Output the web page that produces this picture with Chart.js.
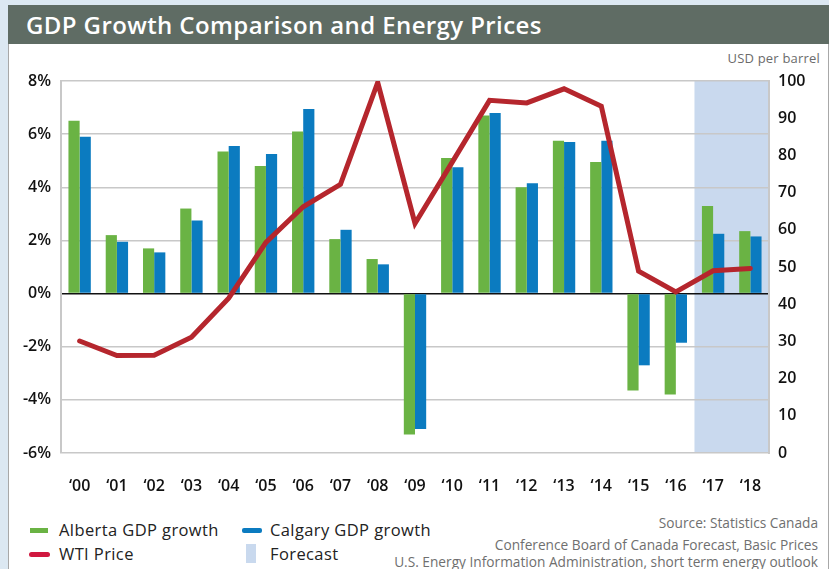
<!DOCTYPE html>
<html>
<head>
<meta charset="utf-8">
<script src="https://cdn.jsdelivr.net/npm/chart.js@4.4.1/dist/chart.umd.min.js"></script>
<style>
  html, body { margin: 0; padding: 0; }
  body { width: 829px; height: 569px; background: #dce8f2; position: relative; overflow: hidden; font-family: "Open Sans", sans-serif; }
  #card { position: absolute; left: 8px; top: 5px; width: 821px; height: 580px; background: #fff; border: 1px solid #a8a8a8; box-sizing: border-box; }
  #title { position: absolute; left: 8px; top: 5px; width: 821px; height: 39px; background: #5f6c64; color: #fff; font-size: 24px; font-weight: 600; letter-spacing: 0.4px; line-height: 39px; padding-left: 18px; box-sizing: border-box; }
  #unit { position: absolute; right: 9px; top: 49px; font-size: 13px; color: #6b6b6b; letter-spacing: 0.2px; }
  #chartBox { position: absolute; left: 0; top: 0; width: 829px; height: 500px; }
  .leg { position: absolute; font-size: 16.5px; color: #222; line-height: 20px; letter-spacing: 0.4px; }
  .sw { position: absolute; }
  .src { position: absolute; right: 11px; font-size: 13.7px; color: #6f6f6f; line-height: 16px; text-align: right; }
</style>
</head>
<body>
<div id="card"></div>
<div id="title">GDP Growth Comparison and Energy Prices</div>
<div id="unit">USD per barrel</div>
<div id="chartBox"><canvas id="chart" width="829" height="500"></canvas></div>

<div class="sw" style="left:30px;top:528px;width:18px;height:5px;background:#6ab344"></div>
<div class="leg" style="left:59px;top:520px">Alberta GDP growth</div>
<div class="sw" style="left:242px;top:528px;width:20px;height:5px;background:#0b7bc0;border-radius:2px"></div>
<div class="leg" style="left:270px;top:520px">Calgary GDP growth</div>
<div class="sw" style="left:29px;top:552px;width:21px;height:5px;background:#d0183f;border-radius:3px"></div>
<div class="leg" style="left:59px;top:544px">WTI Price</div>
<div class="sw" style="left:246px;top:544px;width:10px;height:19px;background:#c9d9ee"></div>
<div class="leg" style="left:270px;top:544px">Forecast</div>

<div class="src" style="top:515px">Source: Statistics Canada</div>
<div class="src" style="top:537px">Conference Board of Canada Forecast, Basic Prices</div>
<div class="src" style="top:554px">U.S. Energy Information Administration, short term energy outlook</div>

<script>
const years = ['\u201800', '\u201801', '\u201802', '\u201803', '\u201804', '\u201805', '\u201806', '\u201807', '\u201808', '\u201809',
  '\u201810', '\u201811', '\u201812', '\u201813', '\u201814', '\u201815', '\u201816', '\u201817', '\u201818'];
const albertaGdp = [6.5, 2.2, 1.7, 3.2, 5.35, 4.8, 6.1, 2.05, 1.3, -5.3, 5.1, 6.7, 4.0, 5.75, 4.95, -3.65, -3.8, 3.3, 2.35];
const calgaryGdp = [5.9, 1.95, 1.55, 2.75, 5.55, 5.25, 6.95, 2.4, 1.1, -5.1, 4.75, 6.8, 4.15, 5.7, 5.75, -2.7, -1.85, 2.25, 2.15];
const wtiPrice = [30.1, 26.2, 26.3, 31.1, 41.6, 56.6, 66.2, 72.2, 99.6, 61.7, 78.2, 94.8, 94.1, 97.9, 93.2, 48.9, 43.3, 49.0, 49.6];
const forecastYears = ['\u201817', '\u201818'];
const gdpTicks = [-6, -4, -2, 0, 2, 4, 6, 8];
const priceTicks = [0, 10, 20, 30, 40, 50, 60, 70, 80, 90, 100];

const tickFont = { family: 'Open Sans', size: 16, weight: '600' };

// light blue band behind the forecast years
const forecastShade = {
  id: 'forecastShade',
  beforeDraw(chart) {
    const x = chart.scales.x, area = chart.chartArea, ctx = chart.ctx;
    const i = years.indexOf(forecastYears[0]);
    const left = (x.getPixelForValue(i - 1) + x.getPixelForValue(i)) / 2;
    ctx.save();
    ctx.fillStyle = '#c9d9ee';
    ctx.fillRect(left, area.top, area.right - left, area.bottom - area.top);
    ctx.restore();
  }
};

new Chart(document.getElementById('chart'), {
  type: 'bar',
  data: {
    labels: years,
    datasets: [
      { type: 'line', label: 'WTI Price', data: wtiPrice, yAxisID: 'y1', order: 0,
        borderColor: '#b5262d', borderWidth: 5, pointRadius: 0, tension: 0, borderCapStyle: 'round', fill: false },
      { label: 'Alberta GDP growth', data: albertaGdp, yAxisID: 'y', order: 1,
        backgroundColor: '#6ab344', categoryPercentage: 0.6, barPercentage: 1 },
      { label: 'Calgary GDP growth', data: calgaryGdp, yAxisID: 'y', order: 1,
        backgroundColor: '#0b7bc0', categoryPercentage: 0.6, barPercentage: 1 }
    ]
  },
  options: {
    responsive: false,
    animation: false,
    layout: { padding: { top: 81, left: 0, right: 0, bottom: 0 } },
    plugins: { legend: { display: false }, tooltip: { enabled: false } },
    scales: {
      x: {
        grid: { display: false },
        border: { display: false },
        ticks: { color: '#111', font: tickFont, padding: 16, maxRotation: 0 },
        afterFit: s => { s.height = 47; }
      },
      y: {
        position: 'left',
        min: -6, max: 8,
        afterBuildTicks: s => { s.ticks = gdpTicks.map(v => ({ value: v })); },
        grid: {
          drawTicks: false,
          color: c => c.tick && c.tick.value === 0 ? '#111' : '#c8c8c8',
          lineWidth: 1.5
        },
        border: { display: true, color: '#c8c8c8', width: 2 },
        ticks: { color: '#111', font: tickFont, padding: 10, callback: v => v + '%' },
        afterFit: s => { s.width = 61; }
      },
      y1: {
        position: 'right',
        min: 0, max: 100,
        afterBuildTicks: s => { s.ticks = priceTicks.map(v => ({ value: v })); },
        grid: { display: false, drawTicks: false },
        border: { display: true, color: '#c8c8c8', width: 2 },
        ticks: { color: '#111', font: tickFont, padding: 9 },
        afterFit: s => { s.width = 60; }
      }
    }
  },
  plugins: [forecastShade]
});
</script>
</body>
</html>
